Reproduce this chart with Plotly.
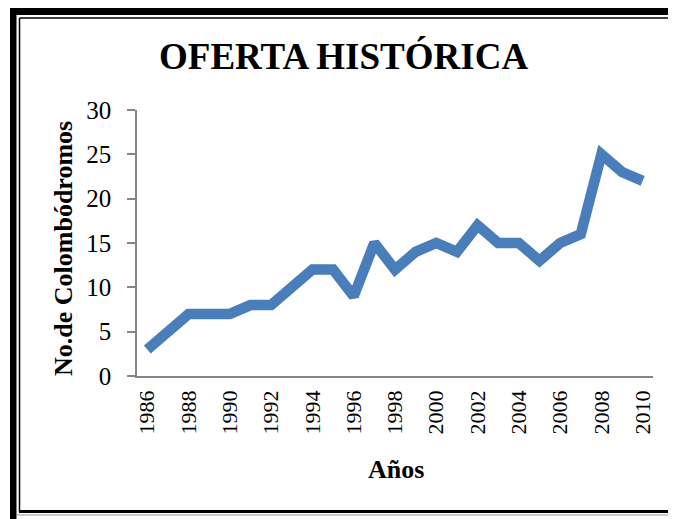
import plotly.graph_objects as go

years = list(range(1986, 2011))
colombodromos = [3, 5, 7, 7, 7, 8, 8, 10, 12, 12, 9, 15, 12, 14, 15, 14, 17, 15, 15, 13, 15, 16, 25, 23, 22]
title_text = "OFERTA HISTÓRICA"
y_title = "No.de Colombódromos"
x_title = "Años"

# screen size and page offset (default body margin of the html page)
W, H = 676, 519
OFF = 8
L, R, T, B = 137, 653, 110, 376

def px(x):
    return (x - L) / (R - L)

def py(y):
    return (B - y) / (B - T)

fig = go.Figure()
fig.add_trace(go.Scatter(
    x=years, y=colombodromos, mode="lines",
    line=dict(color="#4A7EBB", width=10.5),
    hoverinfo="x+y", showlegend=False,
))

font = "Liberation Serif, Times New Roman, serif"
fig.update_layout(
    width=W - OFF, height=H - OFF,
    margin=dict(l=L - OFF, r=W - R, t=T - OFF, b=H - B, pad=0),
    paper_bgcolor="white", plot_bgcolor="white",
    font=dict(family=font, color="black", size=21),
    xaxis=dict(
        range=[1985.5, 2010.5], tickmode="array",
        tickvals=years[::2], ticktext=[str(y) for y in years[::2]],
        tickangle=-90, showgrid=False, zeroline=False,
        showline=True, linecolor="#868686", linewidth=1.5,
        ticks="", ticklabelstandoff=4, tickfont=dict(size=22, family=font),
    ),
    yaxis=dict(
        range=[0, 30], dtick=5, tick0=0, showgrid=False, zeroline=False,
        showline=True, linecolor="#868686", linewidth=1.5,
        ticks="outside", ticklen=8, tickcolor="#868686", tickwidth=1.5,
        ticklabelstandoff=11,
        tickfont=dict(size=25, family=font),
    ),
)

fig.add_annotation(text=f"<b>{title_text}</b>", x=px(343), y=py(57), xref="paper", yref="paper",
                   showarrow=False, font=dict(size=37, family=font, color="black"),
                   xanchor="center", yanchor="middle")
fig.add_annotation(text=f"<b>{y_title}</b>", x=px(64), y=py(249), xref="paper", yref="paper",
                   showarrow=False, textangle=-90, font=dict(size=26, family=font, color="black"),
                   xanchor="center", yanchor="middle")
fig.add_annotation(text=f"<b>{x_title}</b>", x=px(396), y=py(469), xref="paper", yref="paper",
                   showarrow=False, font=dict(size=26, family=font, color="black"),
                   xanchor="center", yanchor="middle")

shapes = []
# thick outer left and top
shapes.append(dict(type="rect", xref="paper", yref="paper", x0=px(10), x1=px(16.5), y0=py(8), y1=py(530),
                   fillcolor="black", line=dict(width=0)))
shapes.append(dict(type="rect", xref="paper", yref="paper", x0=px(10), x1=px(690), y0=py(8), y1=py(15),
                   fillcolor="black", line=dict(width=0)))
# thin inner left and top
shapes.append(dict(type="line", xref="paper", yref="paper", x0=px(19.5), x1=px(19.5), y0=py(18), y1=py(512),
                   line=dict(color="black", width=1.5)))
shapes.append(dict(type="line", xref="paper", yref="paper", x0=px(19.5), x1=px(690), y0=py(18), y1=py(18),
                   line=dict(color="black", width=1.5)))
# bottom lines
shapes.append(dict(type="rect", xref="paper", yref="paper", x0=px(19), x1=px(690), y0=py(510), y1=py(513),
                   fillcolor="black", line=dict(width=0)))
shapes.append(dict(type="line", xref="paper", yref="paper", x0=px(16.5), x1=px(690), y0=py(515), y1=py(515),
                   line=dict(color="#999999", width=1)))
fig.update_layout(shapes=shapes)

fig.write_html("out.html")
